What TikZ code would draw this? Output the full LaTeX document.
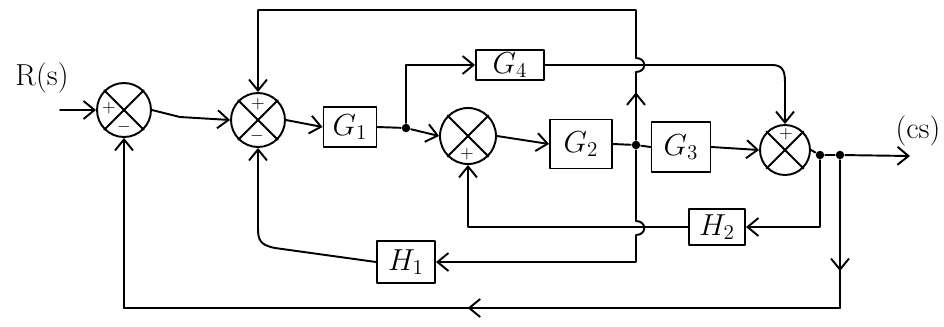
\documentclass[tikz,border=0pt]{standalone}
\usetikzlibrary{arrows.meta,decorations.markings}
\begin{document}
\begin{tikzpicture}[x=0.02cm,y=-0.02cm,line width=1.1pt,line cap=round,line join=round,
  blk/.style={draw,rectangle,inner sep=0pt,font=\LARGE},
  sumj/.style={draw,circle,inner sep=0pt,minimum size=#1},
  dot/.style={circle,fill,inner sep=0pt,minimum size=0.17cm},
  tip/.style={-{Straight Barb[length=2.2mm,width=3.6mm]}},
  midarr/.style={postaction={decorate,decoration={markings,mark=at position #1 with {\arrow{Straight Barb[length=2.2mm,width=3.6mm]}}}}},
  sgn/.style={inner sep=0pt,font=\normalsize},
  lbl/.style={inner sep=0pt,font=\LARGE}]
\useasboundingbox (0,0) rectangle (944,326);

% summing junctions
\node[sumj=1.08cm] (s1) at (124,110) {};
\node[sumj=1.08cm] (s2) at (258,120) {};
\node[sumj=1.12cm] (s3) at (468,136) {};
\node[sumj=1.0cm]  (s4) at (785,150) {};
\foreach \s in {s1,s2,s3,s4}{
  \draw (\s.north west) -- (\s.south east);
  \draw (\s.north east) -- (\s.south west);
}
% signs
\node[sgn] (p1) at (109,108) {$+$};
\node[sgn] (m1) at (124,127) {$-$};
\node[sgn] (p2) at (258,104) {$+$};
\node[sgn] (m2) at (257,136) {$-$};
\node[sgn] (p3) at (467,154) {$+$};
\node[sgn] (p4) at (786,134) {$+$};

% blocks
\node[blk,minimum width=1.06cm,minimum height=0.8cm]  (g1) at (350,127) {$G_1$};
\node[blk,minimum width=1.36cm,minimum height=0.6cm]  (g4) at (510,65)  {$G_4$};
\node[blk,minimum width=1.24cm,minimum height=0.98cm] (g2) at (581,144) {$G_2$};
\node[blk,minimum width=1.18cm,minimum height=1.0cm]  (g3) at (681,147) {$G_3$};
\node[blk,minimum width=1.12cm,minimum height=0.72cm] (h2) at (717,227) {$H_2$};
\node[blk,minimum width=1.16cm,minimum height=0.84cm] (h1) at (406,262) {$H_1$};

% junction dots
\node[dot] (j1) at (406,128) {};
\node[dot] (j2) at (636,145) {};
\node[dot] (j3) at (820,155) {};
\node[dot] (j4) at (840,155) {};

% labels and free ends
\node[lbl] (rs) at (42,78) {R(s)};
\node[lbl] (cs) at (918,131) {(cs)};
\coordinate (in) at (60,110);
\coordinate (out) at (910,156);
\coordinate (br) at (840,308);
\coordinate (bl) at (124,308);

% forward path
\draw[tip] (in) -- (s1.west);
\draw[tip] (s1.east) -- (180,117) -- (s2.west);
\draw[tip] (s2.east) -- (g1.west);
\draw (g1.east) -- (j1);
\draw[tip] (j1) -- (s3.west);
\draw[tip] (j1) |- (g4.west);
\draw[tip] (s3.east) -- (g2.west);
\draw (g2.east) -- (j2);
\draw (j2) -- (g3.west);
\draw[tip] (g3.east) -- (s4.west);
\draw[tip] (g4.east) -- (772,65) .. controls (782,65) and (785,70) .. (785,82) -- (s4.north);
\draw (s4.east) -- (j3) -- (j4);
\draw[tip] (j4) -- (out);

% feedback to S2 top (with hop over G4 line)
\draw[midarr=0.7] (j2) -- (636,72);
\draw[tip] (636,72) .. controls (647,72) and (647,58) .. (636,58) -- (636,10) -- (258,10) -- (s2.north);

% feedback through H1 (with hop over H2 line)
\draw[tip] (j2) -- (636,221) .. controls (647,221) and (647,235) .. (636,235) -- (636,262) -- (h1.east);
\draw[tip] (h1.west) -- (275,248) .. controls (260,245) and (258,240) .. (258,228) -- (s2.south);

% feedback through H2
\draw[tip] (j3) |- (h2.east);
\draw[tip] (h2.west) -- (468,227) -- (s3.south);

% unity feedback to S1
\draw[midarr=0.75] (j4) -- (br);
\draw[midarr=0.52] (br) -- (bl);
\draw[tip] (bl) -- (s1.south);
\end{tikzpicture}
\end{document}
